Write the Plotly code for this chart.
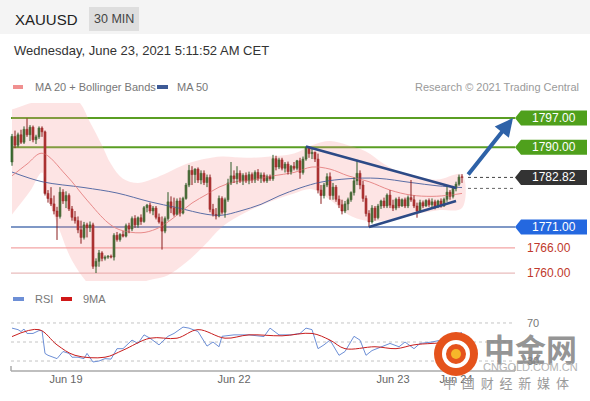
import plotly.graph_objects as go

W, H = 590, 401
FONT = "Arial, Liberation Sans, sans-serif"
CJK = "Noto Sans CJK SC"

# ---------------- data ----------------
first_open = 1786.5
closes = [1792.6, 1790.5, 1793.0, 1791.2, 1794.3, 1793.0, 1794.8, 1791.8, 1792.5, 1794.6,
          1793.7, 1779.0, 1777.8, 1776.5, 1774.8, 1773.5, 1779.3, 1777.2, 1778.5, 1775.3,
          1773.3, 1772.5, 1770.3, 1768.5, 1771.5, 1770.8, 1771.5, 1761.6, 1762.8, 1764.8,
          1763.5, 1763.8, 1764.0, 1763.8, 1769.0, 1768.0, 1769.2, 1768.8, 1771.3, 1770.5,
          1773.0, 1771.5, 1773.2, 1772.3, 1775.6, 1776.2, 1774.8, 1775.5, 1773.3, 1772.2,
          1770.0, 1773.0, 1777.0, 1775.5, 1774.0, 1777.2, 1774.3, 1777.8, 1781.0, 1784.5,
          1783.5, 1784.8, 1782.2, 1783.8, 1781.6, 1782.8, 1775.2, 1774.0, 1773.6, 1777.8,
          1774.5, 1777.5, 1781.5, 1783.2, 1782.5, 1783.8, 1782.0, 1783.3, 1782.0, 1783.5,
          1782.2, 1784.0, 1782.6, 1783.4, 1782.0, 1783.0, 1782.5, 1787.3, 1785.3, 1787.0,
          1785.0, 1786.0, 1784.2, 1785.5, 1785.0, 1786.8, 1784.0, 1787.2, 1789.8, 1788.5,
          1788.8, 1787.2, 1779.8, 1778.5, 1781.0, 1783.0, 1778.5, 1780.5, 1777.6, 1776.3,
          1774.8, 1776.5, 1777.5, 1779.2, 1782.0, 1783.8, 1781.0, 1777.8, 1774.2, 1772.2,
          1775.5, 1773.2, 1776.0, 1777.2, 1776.0, 1778.6, 1776.2, 1775.5, 1777.6, 1776.0,
          1777.5, 1776.0, 1778.0, 1777.5, 1776.0, 1774.8, 1776.8, 1776.0, 1777.3, 1776.3,
          1777.0, 1775.8, 1777.2, 1776.0, 1777.6, 1779.3, 1778.3, 1780.2, 1781.2, 1782.9,
          1782.82]
highs = [1793.2, 1794.0, 1793.5, 1794.2, 1795.0, 1796.9, 1795.3, 1795.2, 1793.0, 1795.0,
         1795.0, 1794.0, 1779.8, 1780.5, 1778.5, 1775.8, 1780.5, 1780.0, 1779.5, 1779.0,
         1776.0, 1774.8, 1773.5, 1772.5, 1772.2, 1772.0, 1772.3, 1772.0, 1763.5, 1765.5,
         1765.2, 1764.2, 1764.3, 1764.4, 1769.5, 1769.8, 1769.5, 1770.0, 1771.8, 1772.0,
         1773.5, 1773.8, 1773.5, 1774.0, 1776.0, 1776.5, 1776.8, 1776.0, 1776.0, 1774.2,
         1773.5, 1773.5, 1779.3, 1778.3, 1778.0, 1777.8, 1778.0, 1778.2, 1781.5, 1785.8,
         1785.5, 1785.0, 1785.2, 1784.5, 1784.5, 1783.5, 1783.5, 1776.5, 1775.5, 1778.5,
         1778.3, 1778.0, 1782.5, 1786.5, 1784.5, 1785.5, 1784.5, 1783.8, 1784.0, 1784.2,
         1784.0, 1784.5, 1784.8, 1784.0, 1784.0, 1783.5, 1783.5, 1788.2, 1788.0, 1787.5,
         1787.5, 1786.5, 1786.6, 1785.8, 1786.5, 1787.0, 1787.5, 1787.8, 1790.2, 1790.2,
         1789.6, 1789.0, 1788.5, 1781.0, 1781.5, 1783.8, 1784.0, 1781.5, 1781.0, 1778.5,
         1777.5, 1777.2, 1778.0, 1779.5, 1782.8, 1787.0, 1784.5, 1782.0, 1778.5, 1775.0,
         1776.2, 1776.0, 1776.5, 1777.5, 1778.0, 1779.0, 1779.8, 1777.5, 1778.0, 1778.2,
         1777.8, 1778.0, 1778.5, 1782.2, 1778.5, 1776.8, 1777.5, 1777.3, 1777.6, 1777.8,
         1777.8, 1777.5, 1777.5, 1777.8, 1778.0, 1780.8, 1779.8, 1780.8, 1781.8, 1783.5,
         1783.6]
lows = [1785.6, 1789.8, 1790.0, 1790.8, 1790.8, 1792.5, 1791.5, 1791.2, 1790.8, 1792.0,
        1792.5, 1778.5, 1776.8, 1776.0, 1774.0, 1767.9, 1773.0, 1776.5, 1775.5, 1774.8,
        1772.5, 1771.8, 1769.5, 1767.0, 1768.0, 1768.5, 1769.8, 1761.0, 1760.0, 1761.5,
        1762.8, 1763.0, 1763.4, 1763.5, 1763.0, 1767.5, 1767.5, 1768.5, 1768.5, 1769.5,
        1770.0, 1770.8, 1770.8, 1771.5, 1772.0, 1774.5, 1774.2, 1773.8, 1772.8, 1771.8,
        1765.6, 1769.5, 1772.5, 1774.3, 1773.5, 1773.8, 1773.5, 1774.0, 1777.5, 1780.5,
        1781.0, 1781.5, 1781.5, 1781.2, 1781.0, 1780.5, 1774.5, 1773.5, 1772.8, 1773.3,
        1774.0, 1773.2, 1777.0, 1781.0, 1781.5, 1781.2, 1781.5, 1781.0, 1781.5, 1781.2,
        1781.5, 1781.5, 1782.0, 1781.5, 1781.6, 1781.5, 1782.0, 1782.0, 1784.5, 1784.8,
        1784.5, 1784.0, 1783.5, 1783.5, 1784.5, 1784.5, 1782.5, 1783.5, 1786.8, 1787.5,
        1787.2, 1786.5, 1779.0, 1776.5, 1777.8, 1780.5, 1777.5, 1777.5, 1777.0, 1775.5,
        1774.0, 1774.3, 1775.0, 1777.0, 1778.5, 1781.0, 1780.0, 1777.0, 1773.5, 1771.0,
        1771.8, 1772.5, 1772.8, 1775.3, 1775.5, 1775.5, 1775.5, 1774.8, 1775.0, 1775.5,
        1775.8, 1775.5, 1775.5, 1777.0, 1775.5, 1773.2, 1774.5, 1775.5, 1775.8, 1775.8,
        1775.5, 1775.2, 1775.5, 1775.6, 1775.8, 1777.0, 1777.5, 1777.8, 1779.5, 1780.8,
        1781.5]

ma20_idx = [0, 5, 10, 18, 25, 32, 36, 43, 48, 52, 56, 60, 65, 69, 74, 80, 87, 94, 100, 106,
            112, 119, 126, 133, 140, 146, 150]
ma20_val = [1783.2, 1786.0, 1788.6, 1783.4, 1777.4, 1772.0, 1770.3, 1769.6, 1770.5, 1772.2,
            1774.4, 1776.7, 1778.8, 1780.5, 1781.7, 1782.2, 1783.2, 1784.0, 1785.3, 1784.8,
            1783.2, 1781.8, 1779.8, 1778.6, 1778.3, 1778.6, 1779.0]

bb_up_idx = [0, 6, 10, 16, 22, 26, 30, 33, 37, 42, 47, 52, 58, 64, 70, 78, 86, 94, 100, 106,
             112, 118, 124, 130, 136, 142, 150]
bb_up_val = [1799.0, 1800.5, 1801.5, 1802.0, 1801.0, 1796.0, 1790.5, 1786.0, 1782.5, 1781.5,
             1782.5, 1784.0, 1786.0, 1787.2, 1787.8, 1787.5, 1787.8, 1788.5, 1790.5, 1791.5,
             1790.5, 1789.0, 1786.0, 1783.8, 1782.8, 1782.3, 1783.5]
bb_lo_idx = [0, 6, 10, 12, 16, 20, 26, 30, 33, 37, 42, 47, 52, 58, 64, 70, 78, 86, 94, 100,
             106, 112, 118, 124, 130, 136, 142, 150]
bb_lo_val = [1774.0, 1779.5, 1784.0, 1778.0, 1770.0, 1763.0, 1757.0, 1755.0, 1754.5, 1755.5,
             1757.5, 1758.5, 1759.5, 1762.5, 1766.5, 1771.0, 1774.5, 1777.0, 1779.0, 1780.0,
             1777.5, 1774.0, 1772.5, 1772.5, 1773.5, 1774.3, 1775.0, 1775.5]

ma50_idx = [0, 10, 24, 35, 46, 55, 65, 70, 76, 83, 89, 96, 103, 112, 122, 133, 142, 150]
ma50_val = [1784.1, 1781.8, 1780.4, 1779.1, 1777.0, 1775.6, 1774.0, 1773.8, 1774.8, 1776.4,
            1778.4, 1780.3, 1781.7, 1782.5, 1782.6, 1781.6, 1780.8, 1780.4]

trend_down_idx = [98, 148]
trend_down_val = [1790.2, 1780.3]
trend_up_idx = [119, 148]
trend_up_val = [1771.0, 1777.2]

rsi_idx = [0, 2, 3, 4, 5, 7, 9, 10, 11, 12, 15, 17, 19, 20, 22, 24, 25, 27, 29, 31,
           33, 35, 37, 40, 42, 44, 46, 49, 52, 54, 57, 59, 62, 65, 67, 69, 70, 74, 79, 84,
           86, 89, 93, 96, 98, 100, 102, 104, 106, 109, 111, 114, 116, 118, 120, 123, 126, 129, 131, 134,
           136, 140, 143, 146, 150]
rsi_val = [64.6, 63, 61, 63.6, 59, 59, 62, 62, 38, 36, 32.5, 40, 38, 34, 34, 32.5, 38, 29, 30, 32.5,
           32, 43, 43, 52, 48.5, 57.5, 54, 47, 56, 59, 65.7, 64.6, 61, 45.7, 50, 45, 56, 57.5, 57.5, 55.7,
           64.6, 57.5, 57.5, 59, 64.6, 63, 43, 47, 52, 36, 40, 56, 52, 36, 41, 45, 48.5, 45, 50, 43,
           48.5, 50, 52, 55, 60]
ma9_idx = [0, 9, 15, 21, 31, 37, 46, 55, 62, 71, 79, 90, 100, 106, 111, 121, 128, 134, 140, 150]
ma9_val = [55.7, 63, 47, 36, 34, 41.4, 54, 54, 63, 54, 57.5, 56.5, 59, 52, 43, 45, 43, 47, 48.5, 50]

tick_bars = [18, 74, 127, 148]
tick_text = ["Jun 19", "Jun 22", "Jun 23", "Jun 24"]

resistance_levels = [1797.00, 1790.00]
last_price = 1782.82
prev_close_level = 1780.2
pivot_level = 1771.00
support_levels = [1766.00, 1760.00]
target_level = 1797.00

# ---------------- helpers ----------------
def px(x):
    return x / W


def py(y):
    return 1 - y / H


shapes = []
ann = []


def text(x, y, s, size=11, color="#666", anchor="left", family=FONT, **kw):
    ann.append(dict(x=px(x), y=py(y), xref="paper", yref="paper", text=s, showarrow=False,
                    xanchor=anchor, yanchor="middle",
                    font=dict(size=size, color=color, family=family), **kw))


def rect(x0, y0, x1, y1, fill, layer="below"):
    shapes.append(dict(type="rect", xref="paper", yref="paper", x0=px(x0), x1=px(x1),
                       y0=py(y1), y1=py(y0), fillcolor=fill, line=dict(width=0), layer=layer))


bars = list(range(len(closes)))
opens = [first_open] + closes[:-1]

UP_FILL, UP_LINE = "#3f7d36", "#2a5a27"
DN_FILL, DN_LINE = "#c93131", "#8a1c1c"

fig = go.Figure()

# Bollinger band fill
fig.add_trace(go.Scatter(
    x=bb_up_idx + bb_lo_idx[::-1], y=bb_up_val + bb_lo_val[::-1],
    fill="toself", fillcolor="rgba(248,150,150,0.26)", line=dict(width=0, shape="spline"),
    mode="lines", hoverinfo="skip", xaxis="x", yaxis="y"))
fig.add_trace(go.Scatter(x=ma50_idx, y=ma50_val, mode="lines",
                         line=dict(color="#5b6ea6", width=1, shape="spline"), xaxis="x", yaxis="y"))
fig.add_trace(go.Scatter(x=ma20_idx, y=ma20_val, mode="lines",
                         line=dict(color="#e88a8a", width=1, shape="spline"), xaxis="x", yaxis="y"))

# candles: wicks + bodies
up = [c >= o for o, c in zip(opens, closes)]
for is_up, col in ((True, UP_LINE), (False, DN_LINE)):
    wx, wy = [], []
    for i in bars:
        if up[i] == is_up:
            wx += [i, i, None]
            wy += [lows[i], highs[i], None]
    fig.add_trace(go.Scatter(x=wx, y=wy, mode="lines", line=dict(color=col, width=1),
                             hoverinfo="skip", xaxis="x", yaxis="y"))
body_base = [min(o, c) for o, c in zip(opens, closes)]
body_len = [max(abs(c - o), 0.15) for o, c in zip(opens, closes)]
fig.add_trace(go.Bar(
    x=bars, y=body_len, base=body_base, width=0.72,
    marker=dict(color=[UP_FILL if u else DN_FILL for u in up],
                line=dict(color=[UP_LINE if u else DN_LINE for u in up], width=0.5)),
    hoverinfo="skip", xaxis="x", yaxis="y"))

for xs, ys in ((trend_down_idx, trend_down_val), (trend_up_idx, trend_up_val)):
    fig.add_trace(go.Scatter(x=xs, y=ys, mode="lines", line=dict(color="#2d4a86", width=2.5),
                             xaxis="x", yaxis="y"))

# RSI panel
fig.add_trace(go.Scatter(x=rsi_idx, y=rsi_val, mode="lines", line=dict(color="#6d8fd6", width=1),
                         xaxis="x2", yaxis="y2"))
fig.add_trace(go.Scatter(x=ma9_idx, y=ma9_val, mode="lines",
                         line=dict(color="#c81e1e", width=1, shape="spline"), xaxis="x2", yaxis="y2"))

# ---------------- header ----------------
rect(0, 0, W, 34, "#f4f4f4")
rect(89, 7, 139, 31, "#dedede")
text(13, 19, "XAUUSD", size=15, color="#222")
text(114, 19, "30 MIN", size=12.5, color="#444", anchor="center")
text(12, 50, "Wednesday, June 23, 2021 5:11:52 AM CET", size=13, color="#333")

# legends
rect(13, 85, 23, 89, "#f09090")
text(33, 87, "MA 20 + Bollinger Bands", size=11, color="#777")
rect(157, 85, 168, 89, "#3d5a96")
text(175, 87, "MA 50", size=11, color="#777")
text(581, 87, "Research © 2021 Trading Central", size=11, color="#9a9a9a", anchor="right")
rect(13, 297, 24, 301, "#6d8fd6")
text(33, 299, "RSI", size=11, color="#777")
rect(61, 297, 72, 301, "#d01818")
text(81, 299, "9MA", size=11, color="#777")

# ---------------- levels ----------------
LX0, LX1 = 11, 515


def hline(level, color, width, dash="solid", yref="y", x0=LX0, x1=LX1):
    shapes.append(dict(type="line", xref="paper", yref=yref, x0=px(x0), x1=px(x1),
                       y0=level, y1=level, line=dict(color=color, width=width, dash=dash),
                       layer="below"))


def tag(level, fill, label):
    hh = 7.5 / 4.19
    path = (f"M {px(515)},{level} L {px(521)},{level + hh} L {px(587)},{level + hh} "
            f"L {px(587)},{level - hh} L {px(521)},{level - hh} Z")
    shapes.append(dict(type="path", xref="paper", yref="y", path=path, fillcolor=fill,
                       line=dict(width=0), layer="above"))
    ann.append(dict(x=px(554), y=level, xref="paper", yref="y", text=label, showarrow=False,
                    xanchor="center", yanchor="middle", font=dict(size=12, color="white", family=FONT)))


for lv in resistance_levels:
    hline(lv, "#5a9e23", 2)
    tag(lv, "#4fa01c", f"{lv:.2f}")
hline(pivot_level, "#7f98c6", 2)
tag(pivot_level, "#2468e0", f"{pivot_level:.2f}")
for lv, c in zip(support_levels, ["#f3a4a4", "#e9bcbc"]):
    hline(lv, c, 1.2)
    ann.append(dict(x=px(525), y=lv, xref="paper", yref="y", text=f"{lv:.2f}", showarrow=False,
                    xanchor="left", yanchor="middle", font=dict(size=12, color="#c0392b", family=FONT)))
hline(last_price, "#444", 1, dash="dot", x0=468, x1=515)
hline(prev_close_level, "#666", 1, dash="dot", x0=468, x1=515)
tag(last_price, "#333333", f"{last_price:.2f}")

# target arrow
ann.append(dict(x=px(513), y=target_level, xref="paper", yref="y", text="", showarrow=True,
                ax=-46, ay=58, arrowcolor="#2e62a8", arrowwidth=4, arrowhead=2, arrowsize=0.9))

# ---------------- RSI panel decorations ----------------
for lv in (70, 50, 30):
    hline(lv, "#c4c4c4", 1, dash="dot", yref="y2")
ann.append(dict(x=px(525), y=70, xref="paper", yref="y2", text="70", showarrow=False,
                xanchor="left", yanchor="middle", font=dict(size=11, color="#777", family=FONT)))
ann.append(dict(x=px(525), y=30, xref="paper", yref="y2", text="30", showarrow=False,
                xanchor="left", yanchor="middle", font=dict(size=11, color="#777", family=FONT)))
shapes.append(dict(type="line", xref="paper", yref="paper", x0=px(11), x1=px(515),
                   y0=py(371), y1=py(371), line=dict(color="#aaa", width=1.5)))
for xx in (11, 515):
    shapes.append(dict(type="line", xref="paper", yref="paper", x0=px(xx), x1=px(xx),
                       y0=py(371), y1=py(366), line=dict(color="#aaa", width=1.5)))

# ---------------- watermark ----------------
shapes.append(dict(type="circle", xref="paper", yref="paper", x0=px(434), x1=px(478),
                   y0=py(376), y1=py(332), fillcolor="#e5531c", line=dict(width=0), layer="above"))
shapes.append(dict(type="circle", xref="paper", yref="paper", x0=px(444), x1=px(468),
                   y0=py(366), y1=py(342), fillcolor="rgba(0,0,0,0)",
                   line=dict(color="white", width=4), layer="above"))
shapes.append(dict(type="circle", xref="paper", yref="paper", x0=px(451), x1=px(461),
                   y0=py(359), y1=py(349), fillcolor="#f6b52a", line=dict(width=0), layer="above"))
text(530, 347, "<b>中金网</b>", size=31, color="rgba(130,130,130,0.85)", anchor="center", family=CJK)
text(530, 367, "CNGOLD.COM.CN", size=11, color="#b4b4b4", anchor="center")
sp = "\u00a0\u00a0"
text(506, 382, sp.join("中国财经新媒体"), size=13, color="#9a9a9a", anchor="center", family=CJK)

# ---------------- layout ----------------
x_range = [-0.667, 164.33]
fig.update_layout(
    width=W, height=H, margin=dict(l=0, r=0, t=0, b=0),
    paper_bgcolor="white", plot_bgcolor="rgba(0,0,0,0)", showlegend=False,
    font=dict(family=FONT), barmode="overlay",
    xaxis=dict(domain=[px(10), px(505)], range=x_range, visible=False, anchor="y"),
    yaxis=dict(domain=[py(281), py(103)], range=[1758.10, 1800.58], visible=False, anchor="x"),
    xaxis2=dict(domain=[px(10), px(505)], range=x_range, anchor="y2", showgrid=False,
                zeroline=False, showline=False, tickvals=tick_bars, ticktext=tick_text,
                ticks="", tickfont=dict(size=11, color="#666", family=FONT)),
    yaxis2=dict(domain=[py(371), py(313)], range=[19.5, 80.5], visible=False, anchor="x2"),
    shapes=shapes, annotations=ann,
)

fig.write_html("out.html", config={"displayModeBar": False, "staticPlot": True},
               post_script="document.body.style.margin='0';document.body.style.overflow='hidden';")
